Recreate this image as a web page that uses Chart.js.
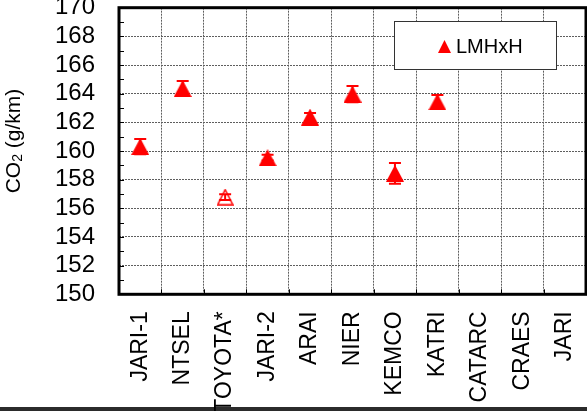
<!DOCTYPE html>
<html lang="en">
<head>
<meta charset="UTF-8">
<title>CO2 (g/km) - LMHxH</title>
<script src="https://cdn.jsdelivr.net/npm/chart.js"></script>
<style>
  html, body { margin: 0; padding: 0; background: #fff; overflow: hidden; }
  #wrap { position: relative; width: 591px; height: 411px; }
  #bottomBar { position: absolute; left: 0; bottom: 0; width: 587px; height: 4px; background: #2b2b2b; }
  #myChart { position: absolute; left: 0; top: 0; }
</style>
</head>
<body>
<div id="wrap">
  <div id="bottomBar"></div>
  <canvas id="myChart" width="591" height="411"></canvas>
</div>

<script>
// labs and their mean CO2 result (g/km), with the +/- spread
const categories = ['JARI-1', 'NTSEL', 'TOYOTA*', 'JARI-2', 'ARAI', 'NIER', 'KEMCO', 'KATRI', 'CATARC', 'CRAES', 'JARI'];
const co2 = [160.31, 164.36, 156.78, 159.53, 162.37, 163.97, 158.44, 163.43, null, null, null];
const co2Err = [0.53, 0.52, 0.2, 0.2, 0.28, 0.56, 0.72, 0.47, null, null, null];
// TOYOTA* is shown with an open marker
const openMarker = [false, false, true, false, false, false, false, false, false, false, false];
const seriesName = 'LMHxH';

const FONT = "'Liberation Sans', Arial, sans-serif";

function triangle(w, h, filled) {
    const c = document.createElement('canvas');
    c.width = w;
    c.height = h;
    const g = c.getContext('2d');
    g.beginPath();
    if (filled) {
        g.moveTo(w / 2, 0);
        g.lineTo(w, h);
        g.lineTo(0, h);
        g.closePath();
        g.fillStyle = '#ff0000';
        g.fill();
    } else {
        g.moveTo(w / 2, 1);
        g.lineTo(w - 1, h - 1);
        g.lineTo(1, h - 1);
        g.closePath();
        g.strokeStyle = '#ff0000';
        g.lineWidth = 1.5;
        g.stroke();
    }
    return c;
}

const solidTri = triangle(18, 17, true);
const openTri = triangle(17, 17, false);
const legendTri = triangle(13, 13, true);

// error bars go under the markers
const errorBars = {
    id: 'errorBars',
    beforeDatasetsDraw(chart) {
        const { ctx, scales: { x, y } } = chart;
        ctx.save();
        ctx.strokeStyle = '#ff0000';
        ctx.lineWidth = 2;
        co2.forEach((v, i) => {
            if (v == null) return;
            const px = x.getPixelForValue(i);
            const top = y.getPixelForValue(v + co2Err[i]);
            const bot = y.getPixelForValue(v - co2Err[i]);
            ctx.beginPath();
            ctx.moveTo(px, top); ctx.lineTo(px, bot);
            ctx.moveTo(px - 6, top); ctx.lineTo(px + 6, top);
            ctx.moveTo(px - 6, bot); ctx.lineTo(px + 6, bot);
            ctx.stroke();
        });
        ctx.restore();
    }
};

// heavy plot frame, minor ticks, y title and the boxed legend
const decorations = {
    id: 'decorations',
    afterDraw(chart) {
        const { ctx, chartArea: a, scales: { x, y } } = chart;
        ctx.save();

        ctx.strokeStyle = '#000';
        ctx.lineWidth = 1;
        ctx.beginPath();
        for (let v = 151; v < 170; v++) {
            const py = Math.round(y.getPixelForValue(v)) + 0.5;
            ctx.moveTo(a.left, py); ctx.lineTo(a.left + 5, py);
        }
        for (let i = 1; i < categories.length; i++) {
            const px = Math.round((x.getPixelForValue(i - 1) + x.getPixelForValue(i)) / 2) + 0.5;
            ctx.moveTo(px, a.bottom); ctx.lineTo(px, a.bottom - 5);
        }
        ctx.stroke();

        ctx.lineWidth = 3;
        ctx.strokeRect(a.left, a.top, a.right - a.left, a.bottom - a.top);

        // y axis title: CO2 with a subscript 2
        ctx.translate(14, 141);
        ctx.rotate(-Math.PI / 2);
        ctx.fillStyle = '#000';
        ctx.textBaseline = 'middle';
        ctx.textAlign = 'left';
        const big = '21px ' + FONT;
        const small = '14px ' + FONT;
        ctx.font = big;
        const w1 = ctx.measureText('CO').width;
        const w3 = ctx.measureText(' (g/km)').width;
        ctx.font = small;
        const w2 = ctx.measureText('2').width;
        let tx = -(w1 + w2 + w3) / 2;
        ctx.font = big;
        ctx.fillText('CO', tx, 0);
        tx += w1;
        ctx.font = small;
        ctx.fillText('2', tx, 4);
        tx += w2;
        ctx.font = big;
        ctx.fillText(' (g/km)', tx, 0);
        ctx.setTransform(1, 0, 0, 1, 0, 0);

        // legend box
        ctx.fillStyle = '#fff';
        ctx.fillRect(394, 21, 163, 49);
        ctx.strokeStyle = '#333';
        ctx.lineWidth = 1;
        ctx.strokeRect(394.5, 21.5, 162, 48);
        ctx.drawImage(legendTri, 438, 40);
        ctx.fillStyle = '#000';
        ctx.font = '20px ' + FONT;
        ctx.textBaseline = 'middle';
        ctx.fillText(chart.data.datasets[0].label, 456, 47);

        ctx.restore();
    }
};

const ctx = document.getElementById('myChart').getContext('2d');
const myChart = new Chart(ctx, {
    type: 'line',
    data: {
        labels: categories,
        datasets: [{
            label: seriesName,
            data: co2,
            showLine: false,
            pointStyle: openMarker.map(o => o ? openTri : solidTri),
            borderColor: '#ff0000',
            backgroundColor: '#ff0000'
        }]
    },
    options: {
        responsive: false,
        animation: false,
        layout: { padding: { top: 7.7, left: 0, right: 0, bottom: 0 } },
        plugins: {
            legend: { display: false },
            tooltip: { enabled: false }
        },
        scales: {
            x: {
                type: 'category',
                offset: true,
                grid: { offset: true, color: '#5e5e5e', drawTicks: false },
                border: { display: false, dash: [2, 1] },
                ticks: {
                    autoSkip: false,
                    minRotation: 90,
                    maxRotation: 90,
                    padding: 17,
                    color: '#000',
                    font: { family: FONT, size: 23 }
                },
                afterFit(s) {
                    s.height = 116.7;
                    s.paddingLeft = 0;
                    s.paddingRight = 0;
                }
            },
            y: {
                min: 150,
                max: 170,
                grid: { color: '#5e5e5e', drawTicks: false },
                border: { display: false, dash: [2, 1] },
                ticks: {
                    autoSkip: false,
                    stepSize: 2,
                    padding: 24,
                    color: '#000',
                    font: { family: FONT, size: 24 }
                },
                afterFit(s) {
                    s.width = 119;
                    s.paddingTop = 0;
                    s.paddingBottom = 0;
                }
            }
        }
    },
    plugins: [errorBars, decorations]
});
</script>
</body>
</html>
